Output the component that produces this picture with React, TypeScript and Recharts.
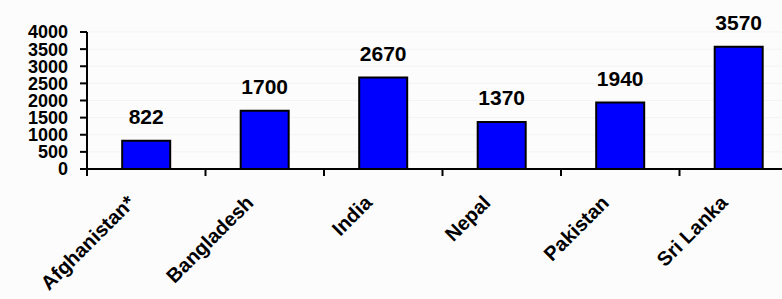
import React from 'react';
import { BarChart, Bar, XAxis, YAxis, CartesianGrid, LabelList } from 'recharts';

const countries = ['Afghanistan*', 'Bangladesh', 'India', 'Nepal', 'Pakistan', 'Sri Lanka'];
const values = [822, 1700, 2670, 1370, 1940, 3570];
const yTicks = [0, 500, 1000, 1500, 2000, 2500, 3000, 3500, 4000];

const chartData = countries.map((name, i) => ({ name, value: values[i] }));

const CHART_W = 798;
const CHART_H = 299;
const PLOT_LEFT = 87;
const PLOT_TOP = 32;
const AXIS_Y = 169;
const BAND = (CHART_W - PLOT_LEFT) / countries.length;

const font = 'Liberation Sans, Arial, sans-serif';

// ticks sit on the category boundaries, labels run up at 45 degrees
const CountryTick = (props: any) => {
  const { x, payload } = props;
  const left = x - BAND / 2;
  const tx = x - 10;
  const ty = AXIS_Y + 35;
  return (
    <g>
      <line x1={left} y1={AXIS_Y} x2={left} y2={AXIS_Y + 7} stroke="#000" strokeWidth={2} />
      <text
        x={tx}
        y={ty}
        transform={`rotate(-45 ${tx} ${ty})`}
        textAnchor="end"
        fontFamily={font}
        fontWeight="bold"
        fontSize={20}
        fill="#000"
      >
        {payload.value}
      </text>
    </g>
  );
};

const App: React.FC = () => {
  return (
    <div
      style={{
        position: 'fixed',
        top: 0,
        left: 0,
        width: 782,
        height: 299,
        overflow: 'hidden',
        background: '#fcfcfc',
      }}
    >
      <BarChart
        width={CHART_W}
        height={CHART_H}
        data={chartData}
        margin={{ top: PLOT_TOP, right: 0, left: 0, bottom: 0 }}
        barCategoryGap="29.7%"
      >
        <CartesianGrid vertical={false} stroke="#f3f3f3" strokeWidth={1} />
        <XAxis
          dataKey="name"
          height={CHART_H - AXIS_Y}
          interval={0}
          axisLine={{ stroke: '#000', strokeWidth: 2 }}
          tickLine={false}
          tick={<CountryTick />}
        />
        <YAxis
          width={PLOT_LEFT}
          domain={[0, 4000]}
          ticks={yTicks}
          interval={0}
          axisLine={{ stroke: '#000', strokeWidth: 2 }}
          tickLine={{ stroke: '#000', strokeWidth: 2 }}
          tickSize={7}
          tickMargin={12}
          tick={{ fill: '#000', fontFamily: font, fontWeight: 'bold', fontSize: 18 }}
        />
        <Bar dataKey="value" fill="#0000ff" stroke="#000" strokeWidth={2} isAnimationActive={false}>
          <LabelList
            dataKey="value"
            position="top"
            offset={17}
            fill="#000"
            fontFamily={font}
            fontWeight="bold"
            fontSize={21}
          />
        </Bar>
      </BarChart>
    </div>
  );
};

export default App;
